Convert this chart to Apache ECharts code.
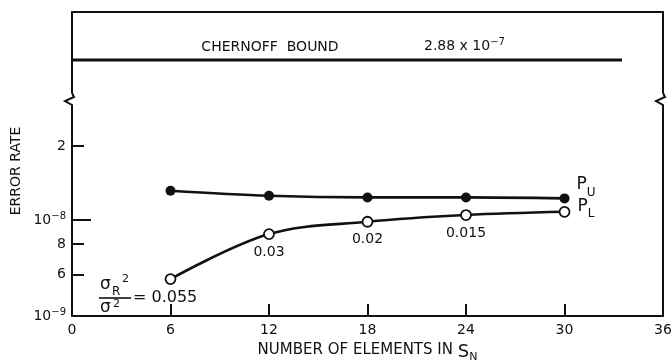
<!DOCTYPE html>
<html>
<head>
<meta charset="utf-8">
<script src="https://cdn.jsdelivr.net/npm/echarts@6/dist/echarts.min.js"></script>
<style>
  html, body { margin: 0; padding: 0; background: #fff; }
  #chart { width: 671px; height: 363px; }
</style>
</head>
<body>
<div id="chart"></div>
<script>
// Error-rate bounds versus number of elements in S_N
const elements = [6, 12, 18, 24, 30];
const upperBound = [1.315e-8, 1.255e-8, 1.236e-8, 1.236e-8, 1.225e-8];   // P_U
const lowerBound = [5.75e-9, 8.77e-9, 9.84e-9, 1.048e-8, 1.08e-8];       // P_L
const varianceRatios = ['0.055', '0.03', '0.02', '0.015', ''];          // sigma_R^2 / sigma^2
const chernoffBound = 2.88e-7;
const chernoffSpan = [0, 33.5];
const xTickValues = [6, 12, 18, 24, 30];
const yTickValues = [4.07e-9, 6e-9, 8e-9, 1e-8, 2e-8];
const yTickLabels = ['10{sup|\u22129}', '6', '8', '10{sup|\u22128}', '2'];
const yMinorTicks = [6e-9, 8e-9, 2e-8];
const yMajorTicks = [1e-8];

const lg = Math.log10;
const INK = '#111';
const FONT = 'DejaVu Sans';

const lowerRange = [lg(4.07e-9), lg(3.05e-8)];
const upperRange = [-7, -6];

function sciText(v) {
  const e = Math.floor(lg(v));
  const m = (v / Math.pow(10, e)).toFixed(2);
  return m + ' x 10{sup|\u2212' + Math.abs(e) + '}';
}

function yLabel(val) {
  for (let i = 0; i < yTickValues.length; i++) {
    if (Math.abs(lg(yTickValues[i]) - val) < 1e-6) return yTickLabels[i];
  }
  return '';
}

const supRich = {
  sup: { fontSize: 10, lineHeight: 10, verticalAlign: 'top', color: INK, fontFamily: FONT }
};

const chart = echarts.init(document.getElementById('chart'), null, { renderer: 'canvas' });

const hidden = { show: false };
const borderLine = { show: true, lineStyle: { color: INK, width: 2 } };

chart.setOption({
  animation: false,
  backgroundColor: '#fff',
  textStyle: { fontFamily: FONT, color: INK },
  grid: [
    { left: 72, right: 8, top: 12, height: 89, outerBoundsMode: 'none', containLabel: false },
    { left: 72, right: 8, top: 101, bottom: 47, outerBoundsMode: 'none', containLabel: false }
  ],
  xAxis: [
    { type: 'value', gridIndex: 0, position: 'top', min: 0, max: 36,
      axisLine: borderLine, axisTick: hidden, axisLabel: hidden, splitLine: hidden },
    { type: 'value', gridIndex: 1, position: 'bottom', min: 0, max: 36, interval: 6,
      axisLine: borderLine,
      axisTick: { show: true, inside: true, length: 12, customValues: xTickValues,
                  lineStyle: { color: INK, width: 2 } },
      axisLabel: { fontSize: 14, color: INK, margin: 7, fontFamily: FONT },
      splitLine: hidden,
      name: '{n|NUMBER OF ELEMENTS IN }{s|S}{sub|N}',
      nameLocation: 'middle', nameGap: 27,
      nameTextStyle: {
        rich: {
          n: { fontSize: 15, lineHeight: 20, verticalAlign: 'top', color: INK, fontFamily: FONT },
          s: { fontSize: 18, lineHeight: 20, verticalAlign: 'top', color: INK, fontFamily: FONT },
          sub: { fontSize: 11, lineHeight: 11, verticalAlign: 'bottom', color: INK, fontFamily: FONT }
        }
      }
    }
  ],
  yAxis: [
    { type: 'value', gridIndex: 0, position: 'left', min: upperRange[0], max: upperRange[1],
      axisLine: borderLine, axisTick: hidden, axisLabel: hidden, splitLine: hidden },
    { type: 'value', gridIndex: 0, position: 'right', min: upperRange[0], max: upperRange[1],
      axisLine: borderLine, axisTick: hidden, axisLabel: hidden, splitLine: hidden },
    { type: 'value', gridIndex: 1, position: 'left', min: lowerRange[0], max: lowerRange[1],
      axisLine: borderLine,
      axisTick: { show: true, inside: true, length: 12, customValues: yMinorTicks.map(lg),
                  lineStyle: { color: INK, width: 2 } },
      axisLabel: { show: true, customValues: yTickValues.map(lg), formatter: yLabel,
                   fontSize: 14, lineHeight: 18, color: INK, margin: 6, fontFamily: FONT,
                   rich: supRich },
      splitLine: hidden },
    { type: 'value', gridIndex: 1, position: 'right', min: lowerRange[0], max: lowerRange[1],
      axisLine: borderLine, axisTick: hidden, axisLabel: hidden, splitLine: hidden },
    { type: 'value', gridIndex: 1, position: 'left', min: lowerRange[0], max: lowerRange[1],
      axisLine: hidden,
      axisTick: { show: true, inside: true, length: 19, customValues: yMajorTicks.map(lg),
                  lineStyle: { color: INK, width: 2 } },
      axisLabel: hidden, splitLine: hidden }
  ],
  series: [
    {
      name: 'Chernoff bound', type: 'line', xAxisIndex: 0, yAxisIndex: 0,
      data: chernoffSpan.map(x => [x, lg(chernoffBound)]),
      symbol: 'none', lineStyle: { color: INK, width: 3 }
    },
    {
      name: 'PU', type: 'line', xAxisIndex: 1, yAxisIndex: 2,
      data: elements.map((x, i) => [x, lg(upperBound[i])]),
      smooth: 0.35, symbol: 'circle', symbolSize: 10,
      itemStyle: { color: INK },
      lineStyle: { color: INK, width: 2.6 },
      endLabel: {
        show: true, formatter: '{p|P}{s|U}', distance: 12, offset: [0, -11],
        rich: {
          p: { fontSize: 17, lineHeight: 22, verticalAlign: 'top', color: INK, fontFamily: FONT },
          s: { fontSize: 12, lineHeight: 12, verticalAlign: 'bottom', color: INK, fontFamily: FONT }
        }
      }
    },
    {
      name: 'PL', type: 'line', xAxisIndex: 1, yAxisIndex: 2,
      data: elements.map((x, i) => [x, lg(lowerBound[i])]),
      smooth: 0.35, symbol: 'circle', symbolSize: 10,
      itemStyle: { color: '#fff', borderColor: INK, borderWidth: 1.8 },
      lineStyle: { color: INK, width: 2.6 },
      label: {
        show: true, position: 'bottom', distance: 5,
        fontSize: 14, color: INK, fontFamily: FONT,
        formatter: p => (p.dataIndex === 0 ? '' : varianceRatios[p.dataIndex])
      },
      endLabel: {
        show: true, formatter: '{p|P}{s|L}', distance: 13, offset: [0, -3],
        rich: {
          p: { fontSize: 17, lineHeight: 22, verticalAlign: 'top', color: INK, fontFamily: FONT },
          s: { fontSize: 12, lineHeight: 12, verticalAlign: 'bottom', color: INK, fontFamily: FONT }
        }
      }
    }
  ]
});

// Annotations: Chernoff bound caption, variance-ratio fraction, axis title, axis breaks
const chernY = chart.convertToPixel({ xAxisIndex: 0, yAxisIndex: 0 }, [0, lg(chernoffBound)])[1];

function breakMark(x, y) {
  return [
    { type: 'rect', z: 100, shape: { x: x - 10, y: y - 7, width: 14, height: 14 },
      style: { fill: '#fff' } },
    { type: 'polyline', z: 101,
      shape: { points: [[x, y - 7], [x + 2, y - 3], [x - 7, y + 1], [x, y + 5], [x, y + 7]] },
      style: { stroke: INK, lineWidth: 2, fill: null } }
  ];
}

chart.setOption({
  graphic: [
    { type: 'text', x: 270, y: chernY - 13, z: 100,
      style: { text: 'CHERNOFF  BOUND', fontSize: 14, fontFamily: FONT, fill: INK,
               align: 'center', verticalAlign: 'middle' } },
    { type: 'text', x: 424, y: chernY - 14, z: 100,
      style: { text: sciText(chernoffBound), fontSize: 14, lineHeight: 18, fontFamily: FONT, fill: INK,
               align: 'left', verticalAlign: 'middle',
               rich: { sup: { fontSize: 10, lineHeight: 10, verticalAlign: 'top', fill: INK, fontFamily: FONT } } } },
    { type: 'text', x: 16, y: 171, rotation: Math.PI / 2, z: 100,
      style: { text: 'ERROR RATE', fontSize: 14, fontFamily: FONT, fill: INK,
               align: 'center', verticalAlign: 'middle' } },
    // sigma_R^2 / sigma^2 = ratio
    { type: 'text', x: 100, y: 285, z: 100,
      style: { text: '\u03c3', fontSize: 17, fontFamily: FONT, fill: INK, verticalAlign: 'middle' } },
    { type: 'text', x: 112, y: 292, z: 100,
      style: { text: 'R', fontSize: 12, fontFamily: FONT, fill: INK, verticalAlign: 'middle' } },
    { type: 'text', x: 122, y: 279, z: 100,
      style: { text: '2', fontSize: 11, fontFamily: FONT, fill: INK, verticalAlign: 'middle' } },
    { type: 'line', z: 100, shape: { x1: 99, y1: 298, x2: 131, y2: 298 },
      style: { stroke: INK, lineWidth: 1.6 } },
    { type: 'text', x: 100, y: 308, z: 100,
      style: { text: '\u03c3', fontSize: 17, fontFamily: FONT, fill: INK, verticalAlign: 'middle' } },
    { type: 'text', x: 113, y: 304, z: 100,
      style: { text: '2', fontSize: 11, fontFamily: FONT, fill: INK, verticalAlign: 'middle' } },
    { type: 'text', x: 133, y: 298, z: 100,
      style: { text: '= ' + varianceRatios[0], fontSize: 16, fontFamily: FONT, fill: INK,
               verticalAlign: 'middle' } }
  ].concat(breakMark(72, 100), breakMark(663, 100))
});
</script>
</body>
</html>
